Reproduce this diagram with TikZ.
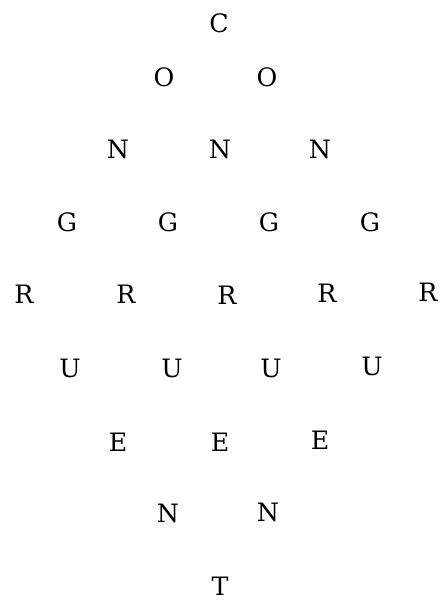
\documentclass[tikz,border=0pt]{standalone}
\usepackage{fontspec}
\setmainfont{DejaVu Serif}
\usepackage{tikz}
\tikzstyle{glyph} = [
    inner sep=0pt,
    text height=13.4pt,
    text depth=0pt,
    font=\fontsize{18}{22}\selectfont
]

\begin{document}
\begin{tikzpicture}[x=0.025cm, y=-0.025cm]
    \useasboundingbox (0,0) rectangle (440,600);

    % Top
    \node[glyph] (c) at (219,23) {C};

    % Widening rows
    \node[glyph] (o1) at (164,77) {O};
    \node[glyph] (o2) at (267,77) {O};

    \node[glyph] (n1) at (118,149) {N};
    \node[glyph] (n2) at (220,149) {N};
    \node[glyph] (n3) at (320,149) {N};

    \node[glyph] (g1) at (67,222) {G};
    \node[glyph] (g2) at (168,222) {G};
    \node[glyph] (g3) at (269,222) {G};
    \node[glyph] (g4) at (370,222) {G};

    % Middle row
    \node[glyph] (r1) at (24,294) {R};
    \node[glyph] (r2) at (126,294) {R};
    \node[glyph] (r3) at (227,295) {R};
    \node[glyph] (r4) at (327,293) {R};
    \node[glyph] (r5) at (428,292) {R};

    % Narrowing rows
    \node[glyph] (u1) at (70,368) {U};
    \node[glyph] (u2) at (172,368) {U};
    \node[glyph] (u3) at (271,368) {U};
    \node[glyph] (u4) at (372,366) {U};

    \node[glyph] (e1) at (118,442) {E};
    \node[glyph] (e2) at (220,442) {E};
    \node[glyph] (e3) at (320,440) {E};

    \node[glyph] (nn1) at (168,513) {N};
    \node[glyph] (nn2) at (268,512) {N};

    % Bottom
    \node[glyph] (t) at (220,586) {T};
\end{tikzpicture}
\end{document}
